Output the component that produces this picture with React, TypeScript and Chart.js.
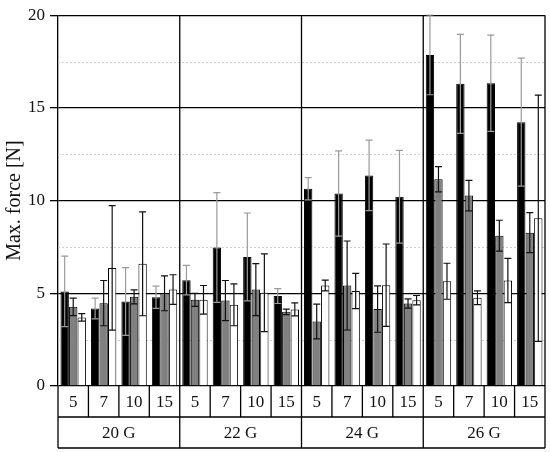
import { useEffect, useRef } from 'react'
import { Chart, registerables } from 'chart.js'
import type { Plugin } from 'chart.js'

Chart.register(...registerables)

// categories: four needle gauges, each split by four sub-values
const groups = ['20 G', '22 G', '24 G', '26 G']
const subLabels = ['5', '7', '10', '15']

// means and standard deviations per series (16 values, group-major)
const blackMean = [5.1, 4.18, 4.56, 4.79, 5.71, 7.47, 6.96, 4.85, 10.64, 10.38, 11.36, 10.21, 17.86, 16.3, 16.33, 14.23]
const blackSd = [1.9, 0.56, 1.83, 0.6, 0.8, 2.96, 2.37, 0.4, 0.6, 2.3, 1.9, 2.5, 2.15, 2.67, 2.6, 3.45]
const grayMean = [4.27, 4.47, 4.81, 5.0, 4.65, 4.61, 5.2, 4.0, 3.48, 5.42, 4.15, 4.45, 11.15, 10.27, 8.11, 8.27]
const graySd = [0.47, 1.22, 0.38, 0.94, 0.35, 1.08, 1.4, 0.15, 0.94, 2.4, 1.25, 0.25, 0.68, 0.82, 0.83, 1.08]
const whiteMean = [3.7, 6.37, 6.59, 5.2, 4.65, 4.38, 5.03, 4.13, 5.42, 5.12, 5.44, 4.63, 5.65, 4.76, 5.69, 9.05]
const whiteSd = [0.2, 3.36, 2.8, 0.8, 0.77, 1.13, 2.1, 0.35, 0.29, 0.95, 2.22, 0.25, 0.97, 0.37, 1.19, 6.64]

const yTicks = [0, 5, 10, 15, 20]
const minorTicks = [2.5, 7.5, 12.5, 17.5]

const FONT = "'Liberation Serif', 'Times New Roman', serif"

const labels = groups.flatMap((g) => subLabels.map((s) => `${g} ${s}`))
const sds = [blackSd, graySd, whiteSd]
const errColors = ['#9a9a9a', '#111', '#111']

// dashed minor lines, vertical group separators and the right frame
const gridPlugin: Plugin<'bar'> = {
  id: 'gridExtras',
  beforeDatasetsDraw(chart) {
    const { ctx, chartArea: a, scales } = chart
    const y = scales.y
    ctx.save()
    ctx.strokeStyle = '#d0d0d0'
    ctx.lineWidth = 1
    ctx.setLineDash([2, 2])
    minorTicks.forEach((t) => {
      const py = Math.round(y.getPixelForValue(t)) + 0.5
      ctx.beginPath()
      ctx.moveTo(a.left, py)
      ctx.lineTo(a.right, py)
      ctx.stroke()
    })
    ctx.setLineDash([])
    ctx.strokeStyle = '#000'
    ctx.lineWidth = 1.3
    const slot = (a.right - a.left) / labels.length
    for (let g = 1; g < groups.length; g++) {
      const px = a.left + g * slot * subLabels.length
      ctx.beginPath()
      ctx.moveTo(px, a.top)
      ctx.lineTo(px, a.bottom)
      ctx.stroke()
    }
    ctx.beginPath()
    ctx.moveTo(a.right, a.top)
    ctx.lineTo(a.right, a.bottom)
    ctx.stroke()
    ctx.restore()
  }
}

// symmetric error bars with caps at both ends
const errorPlugin: Plugin<'bar'> = {
  id: 'errorBars',
  afterDatasetsDraw(chart) {
    const { ctx, chartArea: a, scales } = chart
    const y = scales.y
    ctx.save()
    ctx.beginPath()
    ctx.rect(a.left - 2, a.top - 1, a.right - a.left + 4, a.bottom - a.top + 2)
    ctx.clip()
    ctx.lineWidth = 1.2
    chart.data.datasets.forEach((ds, di) => {
      const meta = chart.getDatasetMeta(di)
      ctx.strokeStyle = errColors[di]
      meta.data.forEach((bar, i) => {
        const v = ds.data[i] as number
        const sd = sds[di][i]
        const x = bar.x
        const top = y.getPixelForValue(v + sd)
        const low = y.getPixelForValue(v - sd)
        const cap = 3.5
        ctx.beginPath()
        ctx.moveTo(x, low)
        ctx.lineTo(x, top)
        ctx.moveTo(x - cap, top)
        ctx.lineTo(x + cap, top)
        ctx.moveTo(x - cap, low)
        ctx.lineTo(x + cap, low)
        ctx.stroke()
      })
    })
    ctx.restore()
  }
}

// two-row category table under the plot
const tablePlugin: Plugin<'bar'> = {
  id: 'categoryTable',
  afterDraw(chart) {
    const { ctx, chartArea: a } = chart
    const slot = (a.right - a.left) / labels.length
    const rowH = 31
    const r1 = a.bottom
    const r2 = r1 + rowH
    const r3 = r2 + rowH
    ctx.save()
    ctx.strokeStyle = '#000'
    ctx.lineWidth = 1.3
    ctx.beginPath()
    ctx.moveTo(a.left, r2)
    ctx.lineTo(a.right, r2)
    ctx.moveTo(a.left, r3)
    ctx.lineTo(a.right, r3)
    for (let i = 0; i <= labels.length; i++) {
      const px = a.left + i * slot
      const isGroup = i % subLabels.length === 0
      ctx.moveTo(px, r1)
      ctx.lineTo(px, isGroup ? r3 : r2)
    }
    ctx.stroke()
    ctx.fillStyle = '#111'
    ctx.font = `17px ${FONT}`
    ctx.textAlign = 'center'
    ctx.textBaseline = 'middle'
    labels.forEach((_, i) => {
      ctx.fillText(subLabels[i % subLabels.length], a.left + (i + 0.5) * slot, r1 + rowH / 2 + 1)
    })
    groups.forEach((g, gi) => {
      const cx = a.left + (gi + 0.5) * slot * subLabels.length
      ctx.fillText(g, cx, r2 + rowH / 2 + 1)
    })
    ctx.restore()
  }
}

export default function App() {
  const canvasRef = useRef<HTMLCanvasElement>(null)

  useEffect(() => {
    const canvas = canvasRef.current
    if (!canvas) return
    const chart = new Chart(canvas, {
      type: 'bar',
      data: {
        labels,
        datasets: [
          { data: blackMean, backgroundColor: '#000', borderColor: '#000', borderWidth: 1 },
          { data: grayMean, backgroundColor: '#808080', borderColor: '#000', borderWidth: 1 },
          { data: whiteMean, backgroundColor: '#fff', borderColor: '#000', borderWidth: 1 }
        ]
      },
      options: {
        responsive: true,
        maintainAspectRatio: false,
        animation: false,
        layout: { padding: { top: 15, right: 5, bottom: 66, left: 0 } },
        datasets: { bar: { categoryPercentage: 0.84, barPercentage: 0.98 } },
        plugins: { legend: { display: false }, tooltip: { enabled: false } },
        scales: {
          x: { display: false },
          y: {
            min: 0,
            max: 20,
            afterBuildTicks: (scale) => {
              scale.ticks = yTicks.map((value) => ({ value }))
            },
            afterFit: (scale) => {
              scale.width = 58
            },
            ticks: { color: '#111', padding: 5, font: { family: FONT, size: 17 } },
            grid: { color: '#000', lineWidth: 1.3, tickLength: 8, drawTicks: true },
            border: { display: true, color: '#000', width: 1.3 },
            title: {
              display: true,
              text: 'Max. force [N]',
              color: '#111',
              font: { family: FONT, size: 20 },
              padding: { top: 3, bottom: 0 }
            }
          }
        }
      },
      plugins: [gridPlugin, errorPlugin, tablePlugin]
    })
    return () => chart.destroy()
  }, [])

  return (
    <div style={{ position: 'absolute', left: 0, top: 0, width: 550, height: 452, background: '#fff' }}>
      <canvas ref={canvasRef} />
    </div>
  )
}
